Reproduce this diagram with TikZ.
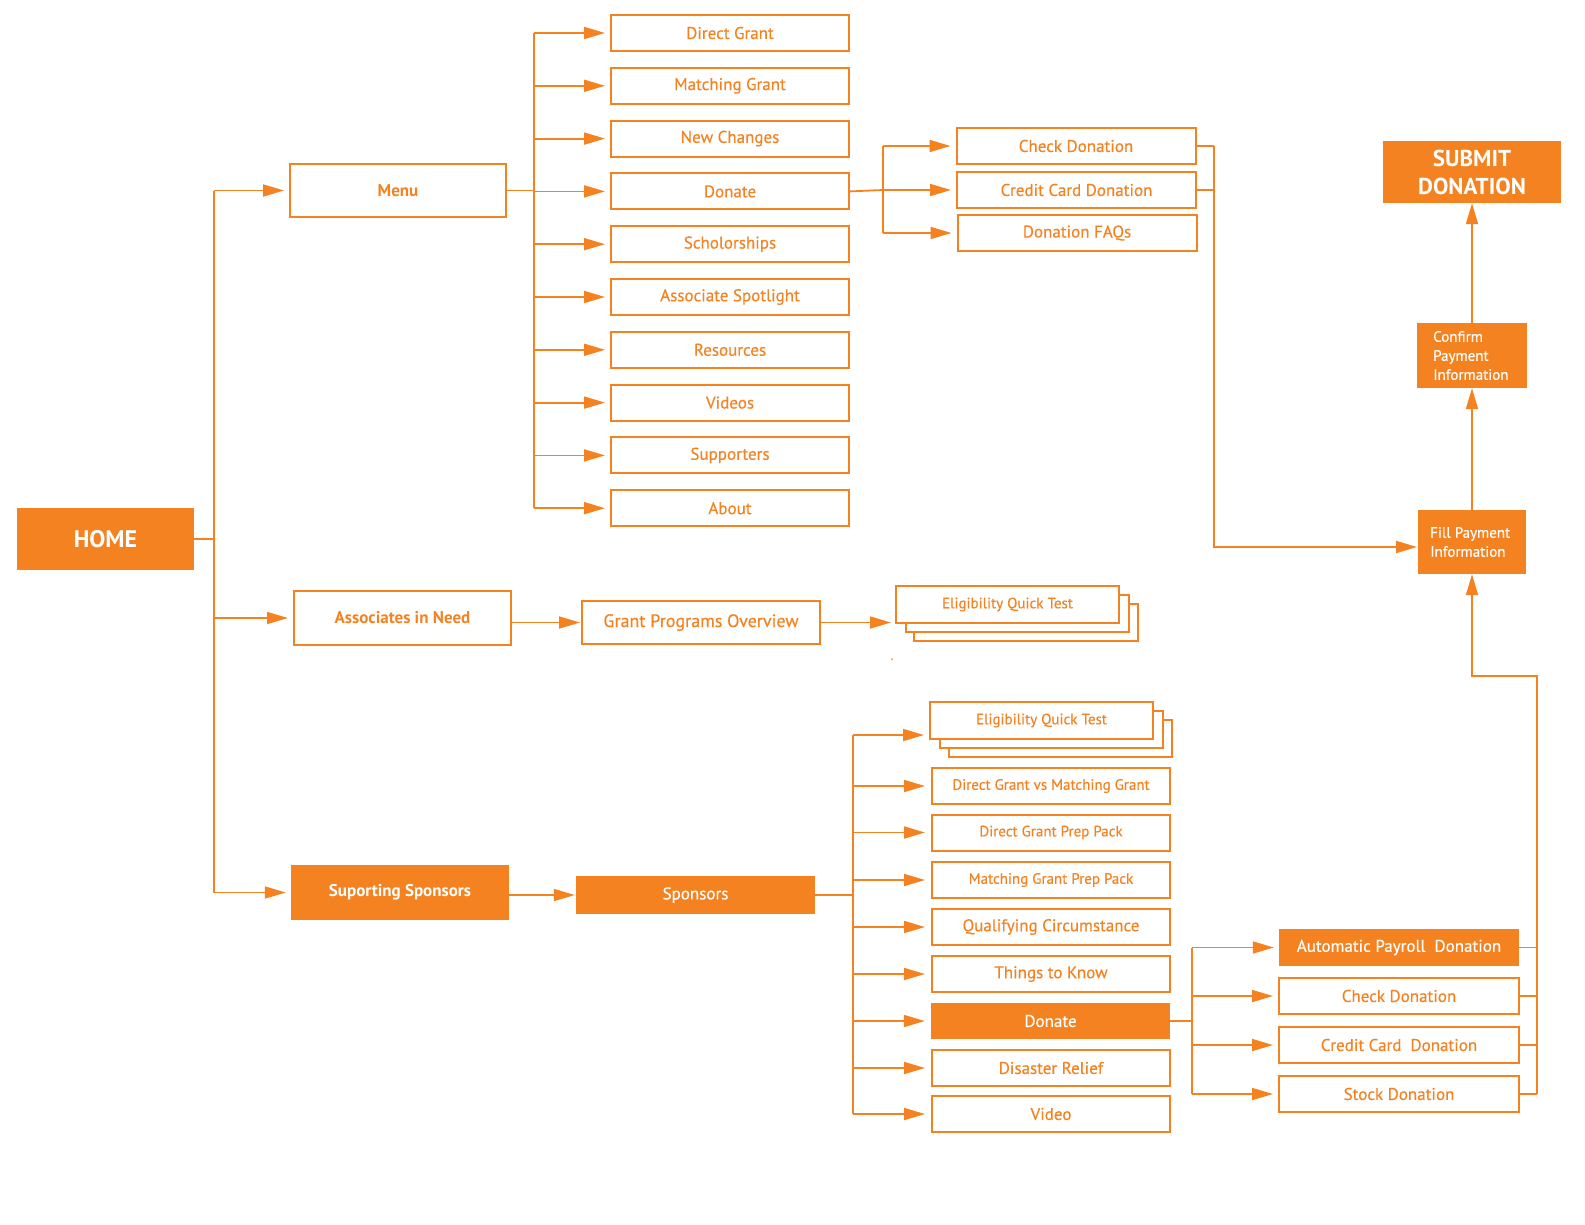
\documentclass[tikz,border=0pt]{standalone}
\usepackage{fontspec}
\setmainfont{PT Sans}[UprightFeatures={FakeBold=0.3}]
\usetikzlibrary{arrows.meta}
\definecolor{org}{RGB}{245,130,32}
\begin{document}
\begin{tikzpicture}[x=1pt,y=-1pt,
  fs/.style={font=\fontsize{17}{19}\selectfont},
  fsm/.style={font=\fontsize{15}{17}\selectfont},
  box/.style={draw=org,line width=2pt,text=org,fill=white,inner sep=0pt,minimum width=238pt,minimum height=36pt,fs},
  fbox/.style={fill=org,text=white,inner sep=0pt,fs},
  ln/.style={draw=org,line width=1.8pt},
  arr/.style={ln,-{Triangle[length=21pt,width=12pt]}},
  stk/.style={draw=org,line width=2pt,fill=white},
]
\useasboundingbox (0,0) rectangle (1585,1224);

% main nodes
\node[fbox,minimum width=177pt,minimum height=62pt,font=\fontsize{24}{26}\selectfont\bfseries] (home) at (105.5,539) {HOME};
\node[box,minimum width=216pt,minimum height=53pt,font=\fontsize{17}{19}\selectfont\bfseries] (menu) at (398,190.5) {Menu};
\node[box,minimum width=217pt,minimum height=54pt,font=\fontsize{17}{19}\selectfont\bfseries] (ain) at (402.5,618) {Associates in Need};
\node[fbox,minimum width=218pt,minimum height=55pt,font=\fontsize{17}{19}\selectfont\bfseries] (sup) at (400,892.5) {Suporting Sponsors};
\coordinate (trunk) at (214,0);

% menu items
\coordinate (mbus) at (534,0);
\foreach \n/\t/\y in {m1/Direct Grant/33, m2/Matching Grant/85.8, m3/New Changes/138.6, m4/Donate/191.4, m5/Scholorships/244.2, m6/Associate Spotlight/297, m7/Resources/349.8, m8/Videos/402.6, m9/Supporters/455.4, m10/About/508.2}
  \node[box] (\n) at (730,\y) {\t};

% donate submenu
\coordinate (dbus) at (883,0);
\node[box,minimum width=239pt] (cd) at (1076,146) {Check Donation};
\node[box,minimum width=239pt] (ccd) at (1076.5,190) {Credit Card Donation};
\node[box,minimum width=239pt] (faq) at (1077,233) {Donation FAQs};
\coordinate (rbus) at (1214,0);

% payment column
\node[fbox,minimum width=108pt,minimum height=64pt,font=\fontsize{15}{19}\selectfont] (fill) at (1472,542) {};
\node[text=white,font=\fontsize{15}{19}\selectfont,align=left,anchor=west,inner sep=0pt] (filltxt) at (1430,542) {Fill Payment\\Information};
\coordinate (fillin) at (1418,547);
\node[fbox,minimum width=110pt,minimum height=65pt] (conf) at (1472,355.5) {};
\node[text=white,font=\fontsize{15}{19}\selectfont,align=left,anchor=west,inner sep=0pt] (conftxt) at (1433,355.5) {Confirm\\Payment\\Information};
\node[fbox,minimum width=178pt,minimum height=62pt,align=center,font=\fontsize{23}{28}\selectfont\bfseries] (submit) at (1472,172) {SUBMIT\\DONATION};

% associates branch
\node[box,minimum width=238pt,minimum height=43pt,font=\fontsize{18}{20}\selectfont] (gpo) at (701,622.5) {Grant Programs Overview};
\draw[stk] (914,604) rectangle (1138,641);
\draw[stk] (906,595) rectangle (1129,632);
\node[box,minimum width=223pt,minimum height=37pt,fsm] (eq1) at (1007.5,604.5) {Eligibility Quick Test};
\fill[org] (892,659) circle (1pt);

% sponsors branch
\node[fbox,minimum width=239pt,minimum height=38pt] (spons) at (695.5,895) {Sponsors};
\coordinate (sbus) at (853,0);
\draw[stk] (949,720) rectangle (1172,757);
\draw[stk] (940,711) rectangle (1163,748);
\node[box,minimum width=223pt,minimum height=37pt,fsm] (eq2) at (1041.5,720.5) {Eligibility Quick Test};
\coordinate (eq2in) at (853,735);
\foreach \n/\t/\y/\f in {s2/Direct Grant vs Matching Grant/786/fsm, s3/Direct Grant Prep Pack/832.5/fsm, s4/Matching Grant Prep Pack/880/fsm, s5/Qualifying Circumstance/927/fs, s6/Things to Know/974/fs, s8/Disaster Relief/1068/fs, s9/Video/1114/fs}
  \node[box,\f] (\n) at (1051,\y) {\t};
\node[fbox,minimum width=239pt,minimum height=36pt] (s7) at (1050.5,1021) {Donate};

% lower right donations
\coordinate (lbus) at (1192,0);
\node[fbox,minimum width=240pt,minimum height=37pt] (apd) at (1399,947.5) {Automatic Payroll\ \ Donation};
\node[box,minimum width=240pt] (lcd) at (1399,996) {Check Donation};
\node[box,minimum width=240pt] (lccd) at (1399,1045) {Credit Card\ \ Donation};
\node[box,minimum width=240pt] (lsd) at (1399,1094) {Stock Donation};
\coordinate (rr) at (1537,0);
\coordinate (rtop) at (1537,676);
\coordinate (rturn) at (1472,676);

% ---------- connectors
\draw[ln] (home.east) -- (trunk |- home.east);
\draw[ln] (trunk |- menu.west) -- (trunk |- sup.west);
\draw[arr] (trunk |- menu.west) -- ([xshift=-5pt]menu.west);
\draw[arr] (trunk |- ain.west) -- ([xshift=-5pt]ain.west);
\draw[arr] (trunk |- sup.west) -- ([xshift=-5pt]sup.west);

\draw[ln] (menu.east) -- (mbus |- menu.east);
\draw[ln] (mbus |- m1.west) -- (mbus |- m10.west);
\foreach \n in {m1,m2,m3,m4,m5,m6,m7,m8,m9,m10}
  \draw[arr] (mbus |- \n.west) -- ([xshift=-5pt]\n.west);

\draw[ln] (m4.east) -- (dbus |- ccd.west);
\draw[ln] (dbus |- cd.west) -- (dbus |- faq.west);
\foreach \n in {cd,ccd,faq}
  \draw[arr] (dbus |- \n.west) -- ([xshift=-5pt]\n.west);

\draw[ln] (cd.east) -- (rbus |- cd.east);
\draw[ln] (ccd.east) -- (rbus |- ccd.east);
\draw[arr] (rbus |- cd.east) -- (rbus |- fillin) -- ([xshift=-1pt]fillin);

\draw[arr] (fill.north) -- (conf.south);
\draw[arr] (conf.north) -- (submit.south);

\draw[arr] (ain.east |- gpo.west) -- ([xshift=-1pt]gpo.west);
\draw[arr] (gpo.east) -- ([xshift=-4pt]eq1.west |- gpo.east);

\draw[arr] (sup.east |- spons.west) -- ([xshift=-1pt]spons.west);
\draw[ln] (spons.east) -- (sbus |- spons.east);
\draw[ln] (eq2in) -- (sbus |- s9.west);
\draw[arr] (eq2in) -- ([xshift=-5pt]eq2.west |- eq2in);
\foreach \n in {s2,s3,s4,s5,s6,s7,s8,s9}
  \draw[arr] (sbus |- \n.west) -- ([xshift=-6pt]\n.west);

\draw[ln] (s7.east) -- (lbus |- s7.east);
\draw[ln] (lbus |- apd.west) -- (lbus |- lsd.west);
\foreach \n in {apd,lcd,lccd,lsd}
  \draw[arr] (lbus |- \n.west) -- ([xshift=-5pt]\n.west);
\foreach \n in {apd,lcd,lccd,lsd}
  \draw[ln] (\n.east) -- (rr |- \n.east);
\draw[arr] (rr |- lsd.east) -- (rtop) -- (rturn) -- (fill.south);
\end{tikzpicture}
\end{document}
